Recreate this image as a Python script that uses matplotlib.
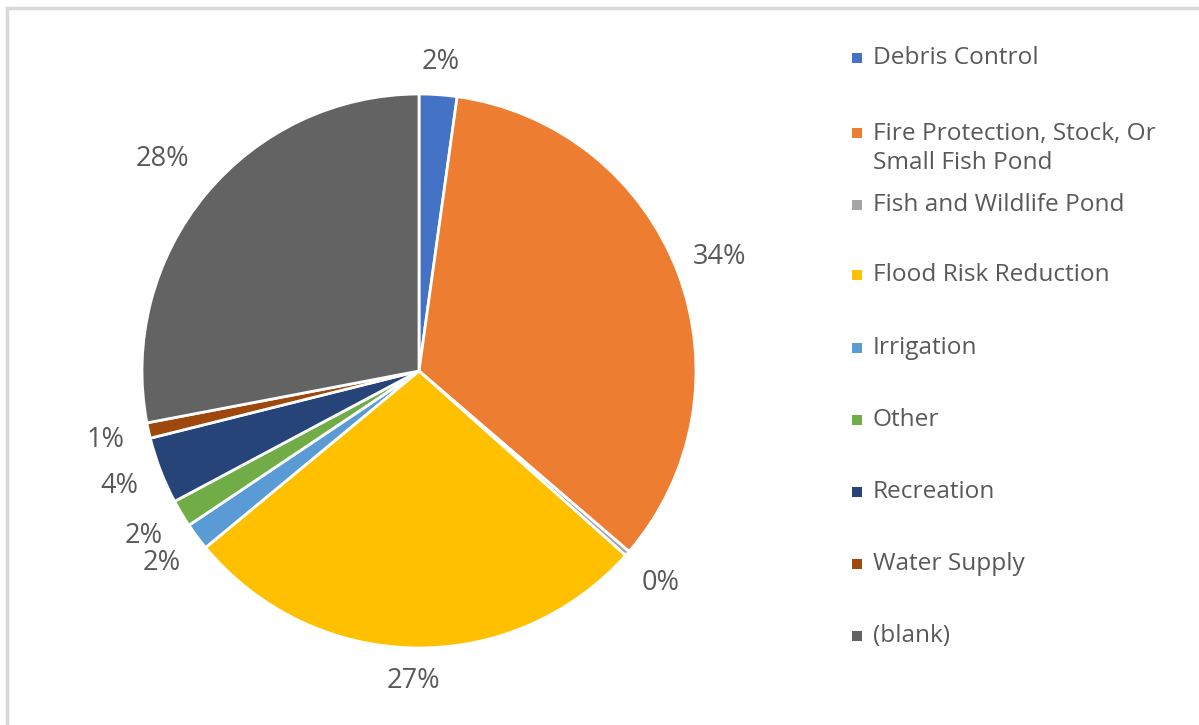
import matplotlib.pyplot as plt
from matplotlib.lines import Line2D
from matplotlib.patches import Rectangle

plt.rcParams['font.family'] = ['Open Sans', 'DejaVu Sans']

# Porcentaje de presas por propósito principal
categorias = ['Debris Control', 'Fire Protection, Stock, Or\nSmall Fish Pond',
              'Fish and Wildlife Pond', 'Flood Risk Reduction', 'Irrigation',
              'Other', 'Recreation', 'Water Supply', '(blank)']
valores = [2.2, 34.1, 0.3, 27.4, 1.6, 1.6, 3.9, 0.9, 28.0]
colores = ['#4472C4', '#ED7D31', '#A5A5A5', '#FFC000', '#5B9BD5',
           '#70AD47', '#264478', '#9E480E', '#636363']

W, H = 1199, 725
fig = plt.figure(figsize=(W / 100, H / 100), dpi=100)

# posición del pastel en píxeles (centro y radio)
cx, cy, r = 419, 371, 277
ax = fig.add_axes([(cx - r) / W, (H - cy - r) / H, 2 * r / W, 2 * r / H])

wedges, _, pcts = ax.pie(valores, colors=colores, startangle=90, counterclock=False,
                         radius=1, autopct='%.0f%%', pctdistance=1.16,
                         wedgeprops={'edgecolor': 'white', 'linewidth': 2},
                         textprops={'color': '#595959', 'fontsize': 19.5})
ax.set_xlim(-1, 1)
ax.set_ylim(-1, 1)
ax.axis('off')

# acercar/alejar algunas etiquetas del borde
ajuste = {0: 1.12 / 1.16, 3: 1.12 / 1.16, 8: 1.2 / 1.16}
for i, t in enumerate(pcts):
    t.set_clip_on(False)
    if i in ajuste:
        x, y = t.get_position()
        t.set_position((x * ajuste[i], y * ajuste[i]))

# leyenda a la derecha (y de la primera línea de cada entrada)
fila_y = [58, 133, 205, 275, 348, 420, 492, 564, 636]
for nombre, color, y in zip(categorias, colores, fila_y):
    fig.patches.append(Rectangle((852 / W, (H - y - 5) / H), 10 / W, 10 / H,
                                 transform=fig.transFigure, facecolor=color,
                                 edgecolor='none'))
    n = nombre.count('\n')
    fig.text(873 / W, (H - y - n * 15.5) / H, nombre, color='#595959', fontsize=17.6,
             va='center', ha='left', linespacing=1.3)

# borde del área del gráfico (arriba e izquierda)
fig.add_artist(Line2D([7 / W, 7 / W], [0, (H - 8) / H], color='#d9d9d9', lw=2.5,
                      transform=fig.transFigure))
fig.add_artist(Line2D([7 / W, 1], [(H - 8) / H, (H - 8) / H], color='#d9d9d9', lw=2.5,
                      transform=fig.transFigure))

plt.savefig('out.png', dpi=100)
